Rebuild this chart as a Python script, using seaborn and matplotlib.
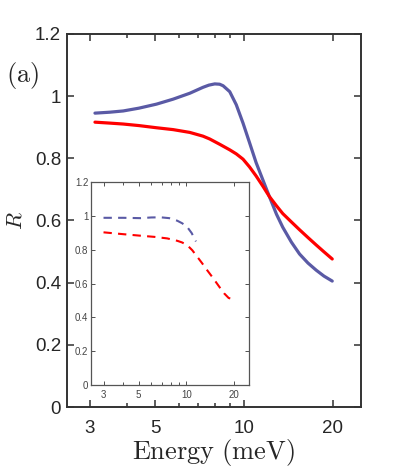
import numpy as np
import pandas as pd
import matplotlib
matplotlib.use("Agg")
import matplotlib.pyplot as plt
import seaborn as sns
from matplotlib.ticker import FixedLocator, NullFormatter, FixedFormatter

# main panel data (solid lines)
main_energy_blue = [3.12, 3.5, 3.89, 4.4, 5.05, 5.75, 6.55, 7.26, 7.6, 7.96, 8.27, 8.5, 8.95, 9.42,
                    9.93, 10.45, 11.0, 11.6, 12.2, 12.9, 13.55, 14.5, 15.45, 16.5, 17.6, 18.7, 19.95]
main_R_blue = [0.945, 0.948, 0.952, 0.961, 0.974, 0.990, 1.009, 1.028, 1.035, 1.039, 1.038, 1.033, 1.014, 0.972,
               0.913, 0.850, 0.786, 0.730, 0.677, 0.620, 0.578, 0.530, 0.492, 0.463, 0.440, 0.421, 0.405]
main_energy_red = [3.12, 3.5, 3.89, 4.4, 5.05, 5.75, 6.55, 7.26, 7.65, 8.27, 8.95, 9.42, 9.93, 10.45, 11.0,
                   11.6, 12.2, 12.9, 13.55, 14.5, 15.45, 16.5, 17.6, 18.7, 19.95]
main_R_red = [0.916, 0.913, 0.910, 0.905, 0.898, 0.892, 0.883, 0.871, 0.862, 0.845, 0.827, 0.814, 0.797, 0.772, 0.743,
              0.710, 0.677, 0.647, 0.622, 0.595, 0.570, 0.545, 0.521, 0.499, 0.476]

# inset data (dashed lines)
inset_energy_blue = [3.0, 4.0, 5.13, 6.0, 6.86, 7.8, 8.75, 9.4, 10.1, 10.8, 11.5]
inset_R_blue = [0.990, 0.990, 0.988, 0.992, 0.993, 0.988, 0.973, 0.958, 0.937, 0.900, 0.850]
inset_energy_red = [3.0, 4.0, 5.13, 6.3, 7.57, 8.75, 9.4, 10.1, 10.9, 11.7, 12.6, 13.5, 14.4, 15.3, 16.3, 17.3, 18.5, 19.5]
inset_R_red = [0.904, 0.893, 0.884, 0.877, 0.868, 0.854, 0.844, 0.829, 0.798, 0.760, 0.720, 0.681, 0.646, 0.612, 0.576, 0.543, 0.515, 0.509]

x_major = [3, 5, 10, 20]
x_minor = [4, 6, 7, 8, 9]
y_ticks = [0, 0.2, 0.4, 0.6, 0.8, 1.0, 1.2]
y_labels = ["0", "0.2", "0.4", "0.6", "0.8", "1", "1.2"]

blue = "#5a5aa5"
red = "#ff0000"

sns.set_style("ticks")
plt.rcParams["font.family"] = ["Liberation Sans", "DejaVu Sans"]
plt.rcParams["mathtext.fontset"] = "cm"
plt.rcParams["lines.solid_joinstyle"] = "round"
plt.rcParams["lines.dash_joinstyle"] = "round"

fig = plt.figure(figsize=(3.99, 4.70), dpi=100)
ax = fig.add_axes([0.167, 0.134, 0.738, 0.794])

df_b = pd.DataFrame({"E": main_energy_blue, "R": main_R_blue})
df_r = pd.DataFrame({"E": main_energy_red, "R": main_R_red})
sns.lineplot(data=df_b, x="E", y="R", ax=ax, color=blue, lw=2.3, sort=True)
sns.lineplot(data=df_r, x="E", y="R", ax=ax, color=red, lw=2.3, sort=True)


def style_axes(a, fs, lw, ticklen, minorlen, col):
    a.set_xscale("log")
    a.set_xlim(2.5, 25)
    a.set_ylim(0, 1.2)
    a.xaxis.set_major_locator(FixedLocator(x_major))
    a.xaxis.set_major_formatter(FixedFormatter([str(v) for v in x_major]))
    a.xaxis.set_minor_locator(FixedLocator(x_minor))
    a.xaxis.set_minor_formatter(NullFormatter())
    a.yaxis.set_major_locator(FixedLocator(y_ticks))
    a.yaxis.set_major_formatter(FixedFormatter(y_labels))
    a.tick_params(which="both", direction="in", top=True, right=True,
                  color=col, width=lw * 0.8, labelcolor="#262626")
    a.tick_params(which="major", length=ticklen, labelsize=fs)
    a.tick_params(which="minor", length=minorlen)
    for s in a.spines.values():
        s.set_color(col)
        s.set_linewidth(lw)
    a.set_xlabel("")
    a.set_ylabel("")


style_axes(ax, 13.5, 1.4, 5, 3, "#333333")
ax.tick_params(axis="x", pad=9)
ax.tick_params(axis="y", pad=4)
ax.set_xlabel(r"$\mathrm{Energy\ (meV)}$", fontsize=19, labelpad=0, color="#262626")
ax.set_ylabel(r"$R$", fontsize=16, labelpad=6, color="#262626")
fig.text(0.015, 0.825, r"$\mathrm{(a)}$", fontsize=19, color="#262626")

axin = fig.add_axes([0.228, 0.181, 0.397, 0.431])
axin.set_facecolor("white")
di_b = pd.DataFrame({"E": inset_energy_blue, "R": inset_R_blue})
di_r = pd.DataFrame({"E": inset_energy_red, "R": inset_R_red})
sns.lineplot(data=di_b, x="E", y="R", ax=axin, color=blue, lw=1.5, linestyle=(0, (4, 3)))
sns.lineplot(data=di_r, x="E", y="R", ax=axin, color=red, lw=1.5, linestyle=(0, (4, 3)))
style_axes(axin, 7, 0.9, 3, 2, "#555555")
axin.tick_params(axis="both", pad=2, labelcolor="#444444")
axin.tick_params(axis="x", pad=4)

fig.savefig("out.png", dpi=100)
